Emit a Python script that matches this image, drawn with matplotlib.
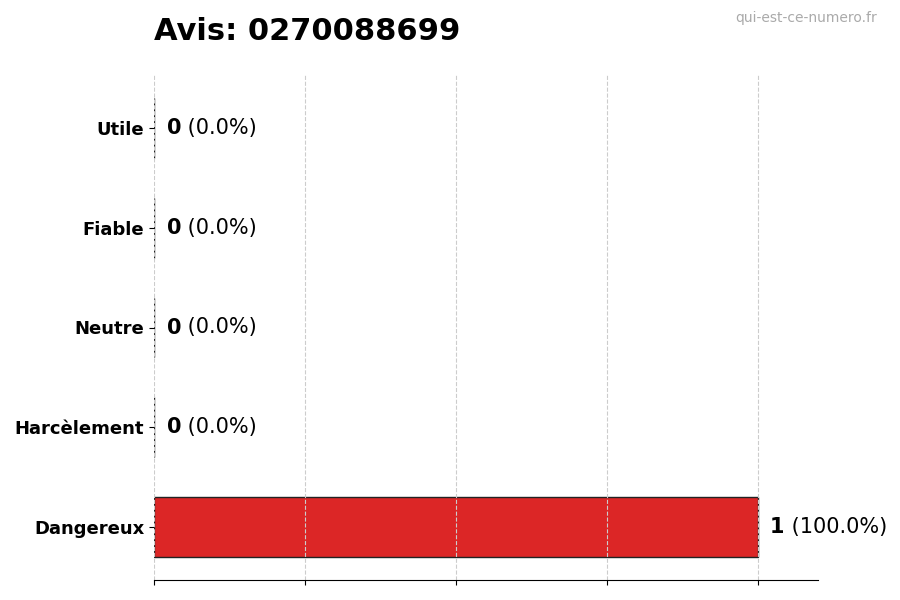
import numpy as np
import matplotlib.pyplot as plt

categories = ['Dangereux', 'Harcèlement', 'Neutre', 'Fiable', 'Utile']
counts = [1, 0, 0, 0, 0]
colors = ['#dc2626', '#9ca3af', '#9ca3af', '#9ca3af', '#9ca3af']
title = 'Avis: 0270088699'
site = 'qui-est-ce-numero.fr'

total = sum(counts)
y = np.arange(len(categories))

fig = plt.figure(figsize=(9, 6), dpi=100)
ax = fig.add_axes([154 / 900, 20 / 600, 664 / 900, 505 / 600])

ax.barh(y, counts, height=0.6, color=colors, edgecolor='#222222', linewidth=1)
ax.set_xlim(0, 1.1)
ax.set_xticks([0, 0.25, 0.5, 0.75, 1.0])
ax.set_xticklabels([])
ax.set_yticks(y)
ax.set_yticklabels(categories, fontsize=13, fontweight='bold')
ax.grid(axis='x', linestyle='--', color='#cccccc', linewidth=0.8)
for s in ['top', 'right', 'left']:
    ax.spines[s].set_visible(False)

# value labels: bold count then percentage
for yi, c in zip(y, counts):
    pct = 100.0 * c / total if total else 0
    t = ax.annotate(str(c), (c, yi), xytext=(9, 0), textcoords='offset points',
                    fontsize=15, fontweight='bold', va='center', ha='left')
    ax.annotate(' (%.1f%%)' % pct, xycoords=t, xy=(1, 0.5), va='center', ha='left',
                fontsize=15)

fig.text(154 / 900, 0.947, title, fontsize=22, fontweight='bold', ha='left', va='center')
fig.text(0.975, 0.97, site, fontsize=10, color='#aaaaaa', ha='right', va='center')

fig.savefig('out.png', dpi=100)
